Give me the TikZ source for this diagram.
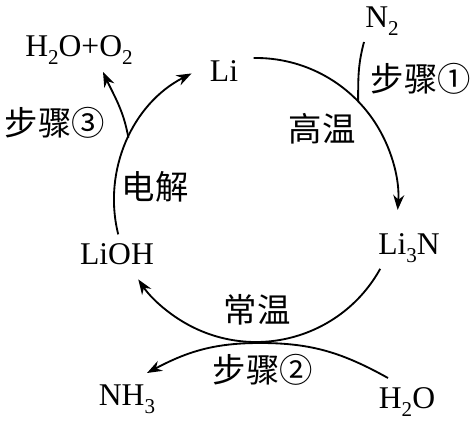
\documentclass[tikz,border=0pt]{standalone}
\usepackage{fontspec}
\setmainfont{Liberation Serif}
\newfontfamily\cjk{Noto Sans CJK SC}
\usetikzlibrary{arrows.meta}
\newcommand{\chemsub}[1]{\raisebox{-4.5pt}{\fontsize{12}{12}\selectfont #1}}

\begin{document}
\begin{tikzpicture}[x = 0.02cm, y = 0.02cm, line width = 1.05pt,
		chem/.style = {anchor = base, inner sep = 0pt, font = \fontsize{18}{20}\selectfont},
		cond/.style = {inner sep = 0pt, font = \cjk\fontsize{19}{21}\selectfont},
		tip/.style = {-{Stealth[length = 3mm, width = 2.2mm]}}]
	\def\R{142};

	\useasboundingbox (0,0) rectangle (476,421);
	\coordinate (c) at (256,221);

	% species
	\node [chem] (li) at (224,339) {Li};
	\node [chem] (li3n) at (409,166) {Li\chemsub{3}N};
	\node [chem] (lioh) at (117,156) {LiOH};
	\node [chem] (n2) at (382,393) {N\chemsub{2}};
	\node [chem] (h2o) at (407,12) {H\chemsub{2}O};
	\node [chem] (nh3) at (127,15) {NH\chemsub{3}};
	\node [chem] (prod) at (79,364) {H\chemsub{2}O+O\chemsub{2}};

	% conditions
	\node [cond] (step1) at (421,342) {步骤①};
	\node [cond] (step2) at (263,51) {步骤②};
	\node [cond] (step3) at (55,298) {步骤③};
	\node [cond] (hot) at (322,292) {高温};
	\node [cond] (room) at (257,111) {常温};
	\node [cond] (elec) at (155,234) {电解};

	% cycle
	\begin{scope}
		\draw [tip] (c) ++(91:\R) arc [start angle = 91, end angle = -4, radius = \R];
		\draw [tip] (c) ++(-29:\R) arc [start angle = -29, end angle = -146, radius = \R];
		\draw [tip] (c) ++(194:\R) arc [start angle = 194, end angle = 117, radius = \R];
	\end{scope}

	% branches
	\path (c) ++(44:\R) coordinate (j1);
	\path (c) ++(154:\R) coordinate (j3);
	\coordinate (n2end) at (364,379);
	\coordinate (h2oend) at (388,43);
	\coordinate (touch) at (260,78);
	\coordinate (nh3end) at (147,48);
	\coordinate (prodend) at (103,349);

	\draw (n2end) to [out = -105, in = 90] (j1);
	\draw [tip] (j3) to [out = 100, in = -65] (prodend);
	\draw [tip] (h2oend) to [out = 151, in = 0] (touch) to [out = 180, in = 28] (nh3end);
\end{tikzpicture}
\end{document}
